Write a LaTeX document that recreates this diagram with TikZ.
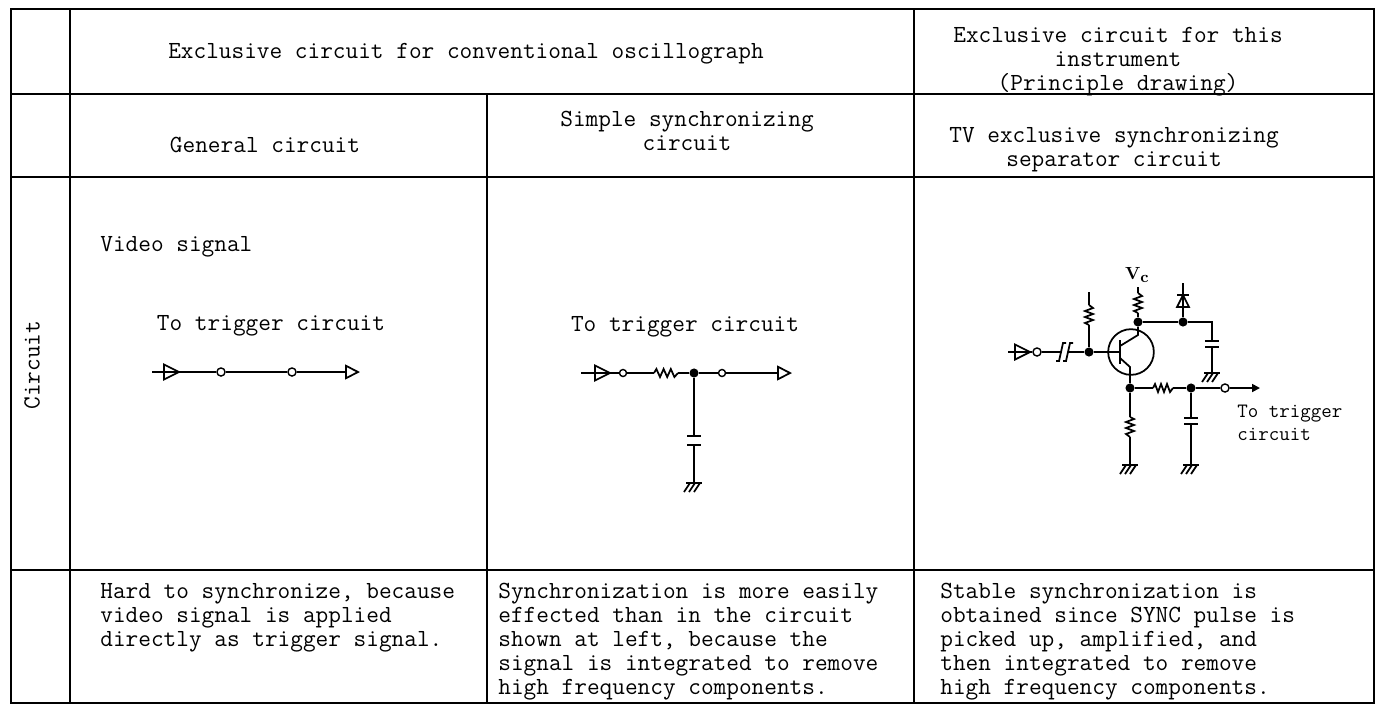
\documentclass[tikz,border=0pt]{standalone}
\usetikzlibrary{arrows.meta}

\tikzset{
  grid/.style={line width=0.85pt},
  wire/.style={line width=1pt},
  txt/.style={font=\ttfamily\fontsize{14}{13.6}\selectfont, inner sep=0pt},
  head/.style={txt, align=center},
  note/.style={txt, align=left, anchor=north west},
  dot/.style={circle, fill, inner sep=0pt, minimum size=5.2pt},
  term/.style={circle, draw, fill=white, inner sep=0pt, minimum size=4.6pt, line width=0.8pt},
  outtri/.style={-{Triangle[open, length=8.5pt, width=8.5pt]}},
  pics/sigtri/.style={code={\draw[wire] (0,-7.5) -- (15,0) -- (0,7.5) -- cycle;}},
  pics/resis/.style={code={
    \draw[wire] (0,0) -- (2,-4) -- (5,4) -- (8,-4) -- (11,4) -- (14,-4) -- (17,4) -- (20,0);
    \coordinate (-a) at (0,0); \coordinate (-b) at (20,0);}},
  pics/capa/.style={code={
    \draw[wire] (-7,0) -- (7,0) (-7,6) -- (7,6);
    \coordinate (-a) at (0,0); \coordinate (-b) at (0,6);}},
  pics/ccap/.style={code={
    \draw[wire] (-8,9) -- (-5,9) -- (-1,-9) -- (2,-9);
    \draw[wire] (-1,9) -- (2,9) -- (6,-9) -- (9,-9);
    \coordinate (-a) at (-3,0); \coordinate (-b) at (4,0);}},
  pics/diode/.style={code={
    \draw[wire] (-6,12) -- (6,12) -- (0,0) -- cycle;
    \draw[wire] (-6,0) -- (6,0);}},
  pics/gnd/.style={code={
    \draw[wire] (-8,0) -- (8,0);
    \foreach \k in {-4,1,6} \draw[wire] (\k,0) -- (\k-6,9);}},
}

\begin{document}
\begin{tikzpicture}[x=0.02cm, y=-0.02cm]
  \useasboundingbox (0,0) rectangle (1378,711);

  % table
  \draw[grid] (11,9) rectangle (1374,703);
  \foreach \r in {94,177,570} \draw[grid] (11,\r) -- (1374,\r);
  \draw[grid] (70,9) -- (70,703);
  \draw[grid] (914,9) -- (914,703);
  \draw[grid] (487,94) -- (487,703);

  % headings
  \node[head] (h-conv) at (466,54) {Exclusive circuit for conventional oscillograph};
  \node[head] (h-this) at (1118,62) {Exclusive circuit for this\\instrument\\(Principle drawing)};
  \node[head] (h-gen) at (265,145) {General circuit};
  \node[head] (h-simple) at (687,131) {Simple synchronizing\\circuit};
  \node[head] (h-tv) at (1114,150) {TV exclusive synchronizing\\separator circuit};
  \node[txt, rotate=90] (h-circ) at (32,365) {Circuit};

  % general circuit
  \node[txt, anchor=west] (g-lbl) at (100,247) {Video signal};
  \node[txt] (g-to) at (271,326) {To trigger circuit};
  \coordinate (g-in) at (152,372);
  \node[term] (g-t1) at (221,372) {};
  \node[term] (g-t2) at (292,372) {};
  \coordinate (g-out) at (360,372);
  \draw[wire] (g-in) -- (g-t1) -- (g-t2);
  \draw[wire, outtri] (g-t2) -- (g-out);
  \pic at (164,372) {sigtri};

  % simple synchronizing circuit
  \node[txt] (s-to) at (685,327) {To trigger circuit};
  \coordinate (s-in) at (581,373);
  \node[term, minimum size=4pt] (s-t1) at (623,373) {};
  \pic[xscale=1.2] (s-r) at (654,373) {resis};
  \node[dot] (s-j) at (694,373) {};
  \node[term, minimum size=4pt] (s-t2) at (722,373) {};
  \coordinate (s-out) at (792,373);
  \pic[yscale=1.5] (s-c) at (694,436) {capa};
  \coordinate (s-g) at (694,483);
  \draw[wire] (s-in) -- (s-t1) -- (s-r-a);
  \draw[wire] (s-r-b) -- (s-j) -- (s-t2);
  \draw[wire, outtri] (s-t2) -- (s-out);
  \draw[wire] (s-j) -- (s-c-a);
  \draw[wire] (s-c-b) -- (s-g);
  \pic at (595,373) {sigtri};
  \pic at (s-g) {gnd};

  % separator circuit
  \coordinate (v-in) at (1008,352);
  \node[term] (v-t1) at (1037,352) {};
  \pic (v-cc) at (1064,352) {ccap};
  \node[dot] (v-b) at (1089,352) {};
  \pic[rotate=90] (v-rb) at (1089,325) {resis};
  \coordinate (v-rbt) at (1089,292);
  \node[circle, draw, wire, inner sep=0pt, minimum size=26pt] (v-q) at (1131,352) {};
  \coordinate (v-bm) at (1120,352);
  \coordinate (v-b1) at (1120,340);
  \coordinate (v-b2) at (1120,364);
  \coordinate (v-ck) at (1138,335);
  \coordinate (v-ek) at (1130,367);
  \node[dot] (v-c) at (1138,322) {};
  \node[dot] (v-e) at (1130,388) {};
  \pic[rotate=90] (v-rc) at (1138,313) {resis};
  \coordinate (v-vc) at (1138,287);
  \node[font=\bfseries, inner sep=0pt] (v-vcl) at (1137,275) {V\raisebox{-0.45ex}{\small c}};
  \node[dot] (v-d) at (1183,322) {};
  \coordinate (v-dt) at (1183,283);
  \coordinate (v-k) at (1212,322);
  \pic (v-c1) at (1212,341) {capa};
  \coordinate (v-g1) at (1212,373);
  \pic (v-re) at (1153,388) {resis};
  \node[dot] (v-o) at (1191,388) {};
  \node[term] (v-t2) at (1225,388) {};
  \coordinate (v-out) at (1260,388);
  \pic (v-c2) at (1191,418) {capa};
  \coordinate (v-g2) at (1191,465);
  \pic[rotate=-90] (v-rg) at (1130,417) {resis};
  \coordinate (v-g3) at (1130,465);

  \draw[wire] (v-in) -- (v-t1) -- (v-cc-a);
  \draw[wire] (v-cc-b) -- (v-b) -- (v-bm);
  \draw[wire] (v-b) -- (v-rb-a);
  \draw[wire] (v-rb-b) -- (v-rbt);
  \draw[wire] (v-b1) -- (v-b2);
  \draw[wire] (1120,346) -- (v-ck) -- (v-c);
  \draw[wire] (1120,358) -- (v-ek) -- (v-e);
  \draw[wire] (v-c) -- (v-rc-a);
  \draw[wire] (v-rc-b) -- (v-vc);
  \draw[wire] (v-c) -- (v-d) -- (v-k) -- (v-c1-a);
  \draw[wire] (v-c1-b) -- (v-g1);
  \draw[wire] (v-d) -- (v-dt);
  \draw[wire] (v-e) -- (v-re-a);
  \draw[wire] (v-re-b) -- (v-o) -- (v-t2);
  \draw[wire, -{Triangle[length=4.5pt, width=4.5pt]}] (v-t2) -- (v-out);
  \draw[wire] (v-o) -- (v-c2-a);
  \draw[wire] (v-c2-b) -- (v-g2);
  \draw[wire] (v-e) -- (v-rg-a);
  \draw[wire] (v-rg-b) -- (v-g3);
  \pic at (1015,352) {sigtri};
  \pic at (1183,295) {diode};
  \pic at (v-g1) {gnd};
  \pic at (v-g2) {gnd};
  \pic at (v-g3) {gnd};
  \node[txt, font=\ttfamily\fontsize{11.6}{13}\selectfont, align=left, anchor=west] (v-to) at (1237,423) {To trigger\\circuit};

  % remarks
  \node[note] (n-gen) at (100,583) {Hard to synchronize, because\\video signal is applied\\directly as trigger signal.};
  \node[note] (n-simple) at (498,583) {Synchronization is more easily\\effected than in the circuit\\shown at left, because the\\signal is integrated to remove\\high frequency components.};
  \node[note] (n-tv) at (940,583) {Stable synchronization is\\obtained since SYNC pulse is\\picked up, amplified, and\\then integrated to remove\\high frequency components.};
\end{tikzpicture}
\end{document}
